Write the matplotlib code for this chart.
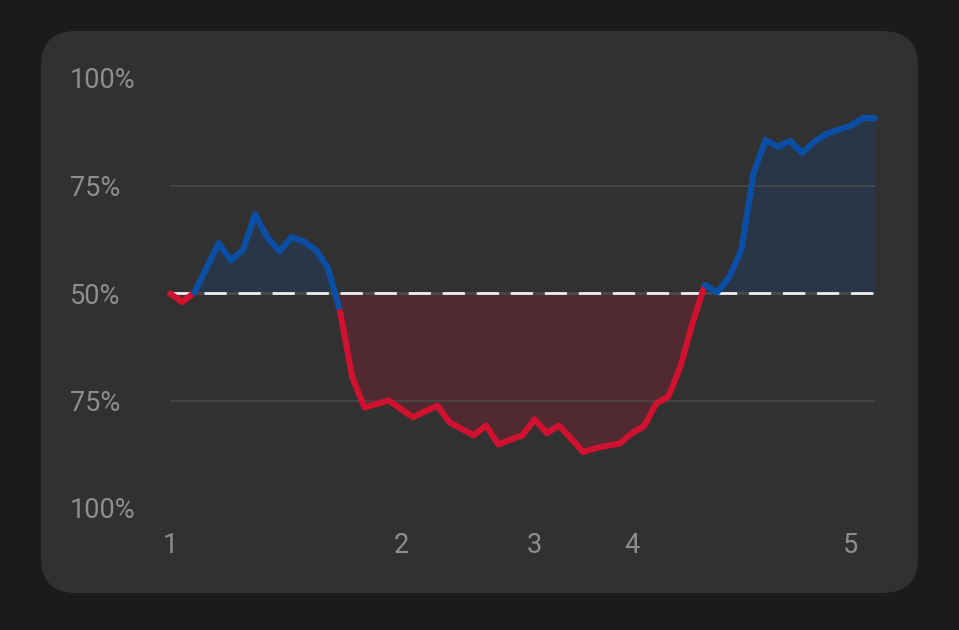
"""Win probability chart on a dark rounded card."""

import matplotlib.pyplot as plt
import numpy as np
from matplotlib.patches import FancyBboxPatch

# home win probability (%) per step, 50 = even
win_prob = [
    49.9, 47.9, 50.1, 55.8, 61.6, 57.6, 60.0, 68.3, 63.0, 59.7,
    63.0, 62.0, 60.0, 55.8, 45.6, 30.3, 23.4, 24.2, 25.0, 23.0,
    21.1, 22.5, 23.8, 19.9, 18.4, 16.9, 19.2, 14.8, 15.9, 16.9,
    20.6, 17.4, 19.2, 16.1, 13.0, 13.9, 14.5, 15.0, 17.4, 19.0,
    24.3, 25.9, 32.9, 43.1, 51.9, 50.1, 53.7, 60.0, 77.8, 85.6,
    84.0, 85.4, 82.6, 85.2, 87.0, 88.0, 88.9, 90.7, 90.7,
]
period_idx = [0, 19, 30, 38, 56]
period_labels = ["1", "2", "3", "4", "5"]
y_ticks = [0, 25, 50, 75, 100]
y_labels = ["100%", "75%", "50%", "75%", "100%"]

BLUE = "#0a4ea6"
RED = "#d0112f"
TEXT = "#8e8e8e"
GRID = "#4a4a4a"

plt.rcParams["font.family"] = ["Roboto", "DejaVu Sans"]
plt.rcParams["lines.scale_dashes"] = False

fig = plt.figure(figsize=(9.59, 6.30), dpi=100, facecolor="#1b1b1b")

# card behind the chart, in pixel coords
bg = fig.add_axes([0, 0, 1, 1])
bg.set_xlim(0, 959)
bg.set_ylim(630, 0)
bg.axis("off")
bg.add_patch(
    FancyBboxPatch(
        (41, 31), 877, 562,
        boxstyle="round,pad=0,rounding_size=35",
        fc="#313131", ec="none",
    )
)

ax = fig.add_axes([170 / 959, 1 - 508 / 630, 705 / 959, 430 / 630])
ax.patch.set_alpha(0)
for s in ax.spines.values():
    s.set_visible(False)

x = np.arange(len(win_prob))
v = np.array(win_prob)
n = len(v) - 1

ax.set_xlim(0, n)
ax.set_ylim(0, 100)

ax.fill_between(x, v, 50, where=v >= 50, interpolate=True, color=BLUE, alpha=0.2, lw=0)
ax.fill_between(x, v, 50, where=v <= 50, interpolate=True, color=RED, alpha=0.2, lw=0)

ax.hlines([25, 75], 0, n, color=GRID, lw=1.1)
ax.plot([0, n], [50, 50], color=GRID, lw=2.0)
ax.plot([0, n], [50, 50], color="#eeeeee", lw=2.0, dashes=(16, 8.5))

# colour each segment by the side its start point is on
seg_up = v[:-1] > 50
breaks = [0] + [j for j in range(1, len(seg_up)) if seg_up[j] != seg_up[j - 1]] + [len(seg_up)]
for a, b in zip(breaks[:-1], breaks[1:]):
    ax.plot(
        x[a:b + 1], v[a:b + 1],
        color=BLUE if seg_up[a] else RED,
        lw=4.4, solid_joinstyle="round", solid_capstyle="round",
        clip_on=False,
    )

ax.set_xticks(period_idx, period_labels)
ax.set_yticks(y_ticks, y_labels)
ax.tick_params(axis="x", length=0, pad=17, labelcolor=TEXT, labelsize=19.5)
ax.tick_params(axis="y", length=0, pad=72, labelcolor=TEXT, labelsize=19.5)
for lbl in ax.get_yticklabels():
    lbl.set_horizontalalignment("left")

fig.savefig("out.png", dpi=100, facecolor=fig.get_facecolor())
